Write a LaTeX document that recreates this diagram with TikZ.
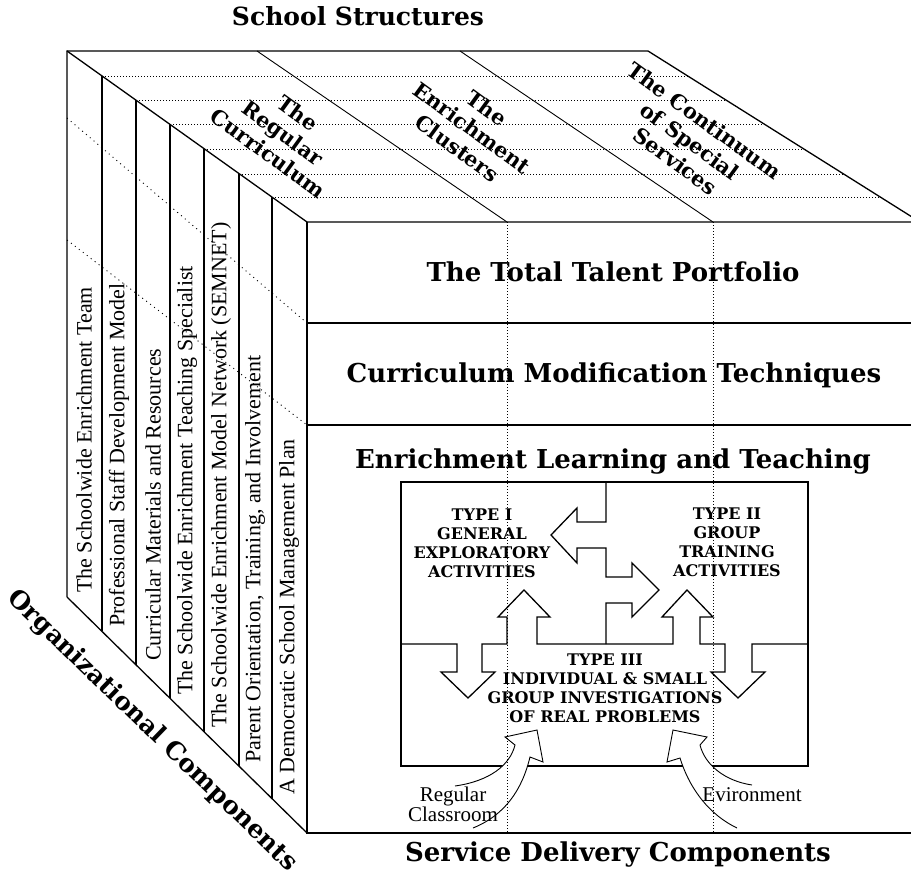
\documentclass[tikz,border=0pt]{standalone}
\usepackage{fontspec}
\setmainfont{Liberation Serif}
\newfontfamily\headfont{DejaVu Serif}

\begin{document}
\begin{tikzpicture}[x=1pt,y=-1pt,line join=miter,
    edge/.style={line width=1.3pt},
    thinedge/.style={line width=0.9pt},
    dots/.style={line width=0.9pt,dash pattern=on 1pt off 2pt},
    sparsedots/.style={line width=0.9pt,dash pattern=on 1pt off 4pt},
    headtext/.style={font=\headfont\bfseries\fontsize{26}{30}\selectfont},
    facetext/.style={font=\headfont\bfseries\fontsize{21}{25}\selectfont,align=center,rotate=-36},
    striptext/.style={font=\fontsize{22}{24}\selectfont,rotate=90,anchor=west,inner sep=0pt},
    typetext/.style={font=\headfont\bfseries\fontsize{16}{19}\selectfont,align=center},
    sourcetext/.style={font=\fontsize{21}{19}\selectfont,align=center}]
    \useasboundingbox (0,0) rectangle (911,876);
    \clip (0,0) rectangle (911,876);

    \coordinate (BackL) at (67,51);
    \coordinate (BackR) at (648,51);
    \coordinate (FrontL) at (307,222);
    \coordinate (FrontR) at (920,222);
    \coordinate (LowL) at (67,597);
    \coordinate (LowF) at (307,833);
    \coordinate (LowR) at (920,833);

    \draw[edge] (LowL) -- (BackL) -- (BackR) -- (FrontR);
    \draw[edge] (BackL) -- (FrontL) -- (FrontR);
    \draw[edge] (FrontL) -- (LowF) -- (LowR);
    \draw[edge] (LowL) -- (LowF);
    \draw[edge] (307,323) -- (920,323);
    \draw[edge] (307,425) -- (920,425);
    \draw[thinedge] (257,51) -- (507,222);
    \draw[thinedge] (460,51) -- (713,222);

    \foreach \x/\t/\b/\r in {102/76/631/688, 136/100/665/726, 170/124/698/764,
                             204/149/732/804, 239/174/766/844, 272/197/799/880}{
        \draw[edge] (\x,\t) -- (\x,\b);
        \draw[dots] (\x,\t) -- (\r,\t);
    }
    \draw[sparsedots] (67,118) -- (307,323);
    \draw[sparsedots] (67,240) -- (307,425);

    \draw[edge] (401,482) rectangle (808,766);
    \draw[edge] (606,482) -- (606,522) -- (577,522) -- (577,508) -- (551,535) -- (577,563)
        -- (577,548) -- (606,548) -- (606,577) -- (632,577) -- (632,563) -- (659,590)
        -- (632,617) -- (632,603) -- (606,603) -- (606,644);
    \draw[edge] (401,644) -- (457,644) -- (457,672) -- (441,672) -- (468,698) -- (495,672)
        -- (482,672) -- (482,644) -- (507,644) -- (507,617) -- (498,617) -- (524,590)
        -- (550,617) -- (537,617) -- (537,644) -- (673,644) -- (673,617) -- (662,617)
        -- (687,590) -- (713,617) -- (700,617) -- (700,644) -- (725,644) -- (725,672)
        -- (711,672) -- (738,698) -- (765,672) -- (752,672) -- (752,644) -- (808,644);

    \draw[thinedge,fill=white] (455,786) .. controls (490,781) and (510,765) .. (515,745)
        -- (505,737) -- (537,730) -- (543,762) -- (530,757)
        .. controls (522,790) and (505,815) .. (473,828);
    \draw[thinedge,fill=white] (752,785) .. controls (725,781) and (705,765) .. (700,745)
        -- (707,737) -- (673,730) -- (667,762) -- (680,758)
        .. controls (690,790) and (710,815) .. (737,828);

    \draw[dots] (507,222) -- (507,833);
    \draw[dots] (713,222) -- (713,833);

    \node[headtext,font=\headfont\bfseries\fontsize{25}{30}\selectfont] (Structures) at (358,16) {School Structures};
    \node[headtext] (Portfolio) at (613,272) {The Total Talent Portfolio};
    \node[headtext] (Techniques) at (614,375) {Curriculum Modification Techniques};
    \node[headtext] (Teaching) at (613,462) {Enrichment Learning and Teaching};
    \node[headtext] (Delivery) at (618,855) {Service Delivery Components};
    \node[headtext,rotate=-44,font=\headfont\bfseries\fontsize{25}{30}\selectfont] (Organization) at (152,731) {Organizational Components};

    \node[facetext] (Regular) at (283,133) {The\\Regular\\Curriculum};
    \node[facetext] (Clusters) at (472,128) {The\\Enrichment\\Clusters};
    \node[facetext] (Continuum) at (690,141) {The Continuum\\of Special\\Services};

    \node[striptext] (team) at (84,593) {The Schoolwide Enrichment Team};
    \node[striptext] (staff) at (119,627) {Professional Staff Development Model};
    \node[striptext] (materials) at (153,661) {Curricular Materials and Resources};
    \node[striptext] (specialist) at (187,695) {The Schoolwide Enrichment Teaching Specialist};
    \node[striptext] (network) at (221,728) {The Schoolwide Enrichment Model Network (SEMNET)};
    \node[striptext] (parents) at (255,763) {Parent Orientation, Training, and Involvement};
    \node[striptext] (plan) at (289,795) {A Democratic School Management Plan};

    \node[typetext] (typeone) at (482,543) {TYPE I\\GENERAL\\EXPLORATORY\\ACTIVITIES};
    \node[typetext] (typetwo) at (727,542) {TYPE II\\GROUP\\TRAINING\\ACTIVITIES};
    \node[typetext] (typethree) at (605,688) {TYPE III\\INDIVIDUAL \& SMALL\\GROUP INVESTIGATIONS\\OF REAL PROBLEMS};

    \node[sourcetext] (classroom) at (453,804) {Regular\\Classroom};
    \node[sourcetext] (environment) at (752,795) {Evironment};
\end{tikzpicture}
\end{document}
